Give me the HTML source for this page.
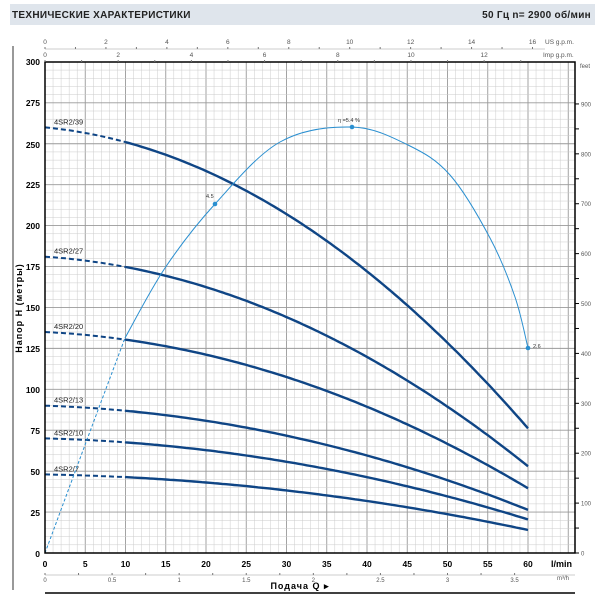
<!DOCTYPE html>
<html><head><meta charset="utf-8"><style>
body{margin:0;background:#fff;width:600px;height:600px;overflow:hidden;font-family:"Liberation Sans",sans-serif}
</style></head><body>
<svg id="s" width="600" height="600" xmlns="http://www.w3.org/2000/svg" font-family="Liberation Sans, sans-serif">
<rect x="10" y="4" width="585" height="21" fill="#dfe5ec"/>
<text x="12" y="18" font-size="10" font-weight="bold" fill="#222" letter-spacing="0.3">ТЕХНИЧЕСКИЕ ХАРАКТЕРИСТИКИ</text>
<text x="591" y="18" font-size="10" font-weight="bold" fill="#222" text-anchor="end" letter-spacing="0.3">50 Гц    n= 2900  об/мин</text>
<line x1="13" y1="46" x2="13" y2="590" stroke="#333" stroke-width="1"/>
<line x1="45" y1="593" x2="575" y2="593" stroke="#000" stroke-width="1.5"/>
<g id="grid"></g>
<g id="curves"></g>
<rect x="45" y="62" width="530" height="491" fill="none" stroke="#000" stroke-width="1.5"/>
<g font-size="8" fill="#555" id="top"></g>
<g id="labels"></g>
<text x="40" y="65" font-size="8.5" font-weight="bold" text-anchor="end">300</text>
<text x="40" y="106" font-size="8.5" font-weight="bold" text-anchor="end">275</text>
<text x="40" y="148" font-size="8.5" font-weight="bold" text-anchor="end">250</text>
<text x="40" y="188" font-size="8.5" font-weight="bold" text-anchor="end">225</text>
<text x="40" y="229" font-size="8.5" font-weight="bold" text-anchor="end">200</text>
<text x="40" y="270" font-size="8.5" font-weight="bold" text-anchor="end">175</text>
<text x="40" y="311" font-size="8.5" font-weight="bold" text-anchor="end">150</text>
<text x="40" y="352" font-size="8.5" font-weight="bold" text-anchor="end">125</text>
<text x="40" y="393" font-size="8.5" font-weight="bold" text-anchor="end">100</text>
<text x="40" y="434" font-size="8.5" font-weight="bold" text-anchor="end">75</text>
<text x="40" y="475" font-size="8.5" font-weight="bold" text-anchor="end">50</text>
<text x="40" y="516" font-size="8.5" font-weight="bold" text-anchor="end">25</text>
<text x="40" y="557" font-size="8.5" font-weight="bold" text-anchor="end">0</text>
<text transform="translate(22,308) rotate(-90)" font-size="9" font-weight="bold" text-anchor="middle" letter-spacing="1">Напор Н  (метры)</text>
<text x="300" y="589" font-size="9" font-weight="bold" text-anchor="middle" letter-spacing="1">Подача Q ▸</text>
<text x="551" y="567" font-size="9" font-weight="bold">l/min</text>
<text x="557" y="580" font-size="6" fill="#555">m³/h</text>
<text x="545" y="44" font-size="6.5" fill="#555">US g.p.m.</text>
<text x="543" y="57" font-size="6.5" fill="#555">Imp g.p.m.</text>
<text x="580" y="68" font-size="6" fill="#555">feet</text>
</svg>
<script>
var NS="http://www.w3.org/2000/svg";
function el(p,t,a,txt){var e=document.createElementNS(NS,t);for(var k in a)e.setAttribute(k,a[k]);if(txt!==undefined)e.textContent=txt;p.appendChild(e);return e;}
var X=function(q){return 45+q*8.05}, Y=function(h){return 553-h*1.637};
var g=document.getElementById('grid');
for(var q=1;q<66;q++){var x=X(q);if(x>575)break;el(g,'line',{x1:x,y1:62,x2:x,y2:553,stroke:q%5==0?'#999':'#ccc','stroke-width':q%5==0?0.9:0.5});}
for(var h=5;h<300;h+=5){var y=Y(h);el(g,'line',{x1:45,y1:y,x2:575,y2:y,stroke:h%25==0?'#999':'#ccc','stroke-width':h%25==0?0.9:0.5});}
var lb=document.getElementById('labels');
for(var q=0;q<=60;q+=5){el(lb,'text',{x:X(q),y:567,'font-size':8.5,'font-weight':'bold','text-anchor':'middle'},String(q));}
el(lb,'line',{x1:45,y1:575,x2:575,y2:575,stroke:'#999','stroke-width':0.6});
for(var m=0;m<=3.5;m+=0.25){var x=X(m*16.667);el(lb,'line',{x1:x,y1:573,x2:x,y2:575,stroke:'#777'});if(m*2==Math.round(m*2))el(lb,'text',{x:x,y:582,'font-size':6,fill:'#555','text-anchor':'middle'},String(m));}
for(var f=0;f<=900;f+=50){var y=Y(f*0.3048);el(lb,'line',{x1:575,y1:y,x2:579,y2:y,stroke:'#000'});if(f%100==0)el(lb,'text',{x:581,y:y+2.5,'font-size':6,fill:'#555'},String(f));}
var tp=document.getElementById('top');
el(tp,'line',{x1:45,y1:49,x2:545,y2:49,stroke:'#999','stroke-width':0.6});
for(var u=0;u<=16;u+=1){var x=X(u*3.785);el(tp,'line',{x1:x,y1:47,x2:x,y2:49,stroke:'#777'});if(u%2==0)el(tp,'text',{x:x,y:44,'font-size':6.5,'text-anchor':'middle'},String(u));}
for(var u=0;u<=13;u+=1){var x=X(u*4.546);el(tp,'line',{x1:x,y1:60,x2:x,y2:62,stroke:'#777'});if(u%2==0)el(tp,'text',{x:x,y:57,'font-size':6.5,'text-anchor':'middle'},String(u));}
var cv=document.getElementById('curves');
var pumps=[[260,'4SR2/39'],[181,'4SR2/27'],[135,'4SR2/20'],[90,'4SR2/13'],[70,'4SR2/10'],[48,'4SR2/7']];
pumps.forEach(function(p){var k=p[0]/260;
 function H(q){return k*(260-0.467*q-0.0433*q*q);}
 var d1='',d2='';
 for(var q=0;q<=10;q+=0.5)d1+=(q?'L':'M')+X(q).toFixed(1)+','+Y(H(q)).toFixed(1);
 for(var q=10;q<=60;q+=0.5)d2+=(q>10?'L':'M')+X(q).toFixed(1)+','+Y(H(q)).toFixed(1);
 el(cv,'path',{d:d1,fill:'none',stroke:'#0f4585','stroke-width':2,'stroke-dasharray':'5,3'});
 el(cv,'path',{d:d2,fill:'none',stroke:'#0f4585','stroke-width':2.4});
 el(cv,'text',{x:54,y:Y(p[0])-3,'font-size':7.5,fill:'#222'},p[1]);
});
var P=[[45,553],[85,445],[125,338],[165,268],[215,204],[280,142],[352,127],[408,145],[450,175],[490,238],[515,297],[528,348]];
function cr(pts){var d='M'+pts[0][0]+','+pts[0][1];for(var i=0;i<pts.length-1;i++){var p0=pts[i-1]||pts[i],p1=pts[i],p2=pts[i+1],p3=pts[i+2]||p2;
 d+='C'+(p1[0]+(p2[0]-p0[0])/6).toFixed(1)+','+(p1[1]+(p2[1]-p0[1])/6).toFixed(1)+' '+(p2[0]-(p3[0]-p1[0])/6).toFixed(1)+','+(p2[1]-(p3[1]-p1[1])/6).toFixed(1)+' '+p2[0]+','+p2[1];}return d;}
el(cv,'path',{d:cr(P.slice(0,3)),fill:'none',stroke:'#2a8fd0','stroke-width':1,'stroke-dasharray':'3,2'});
el(cv,'path',{d:cr(P.slice(2)),fill:'none',stroke:'#2a8fd0','stroke-width':1});
[[215,204],[352,127],[528,348]].forEach(function(p){el(cv,'circle',{cx:p[0],cy:p[1],r:2.3,fill:'#2a8fd0'});});
el(cv,'text',{x:206,y:198,'font-size':5.5,fill:'#333'},'4.5');
el(cv,'text',{x:338,y:122,'font-size':5.5,fill:'#333'},'η =5.4 %');
el(cv,'text',{x:533,y:348,'font-size':5.5,fill:'#333'},'2.6');
</script>
</body></html>
